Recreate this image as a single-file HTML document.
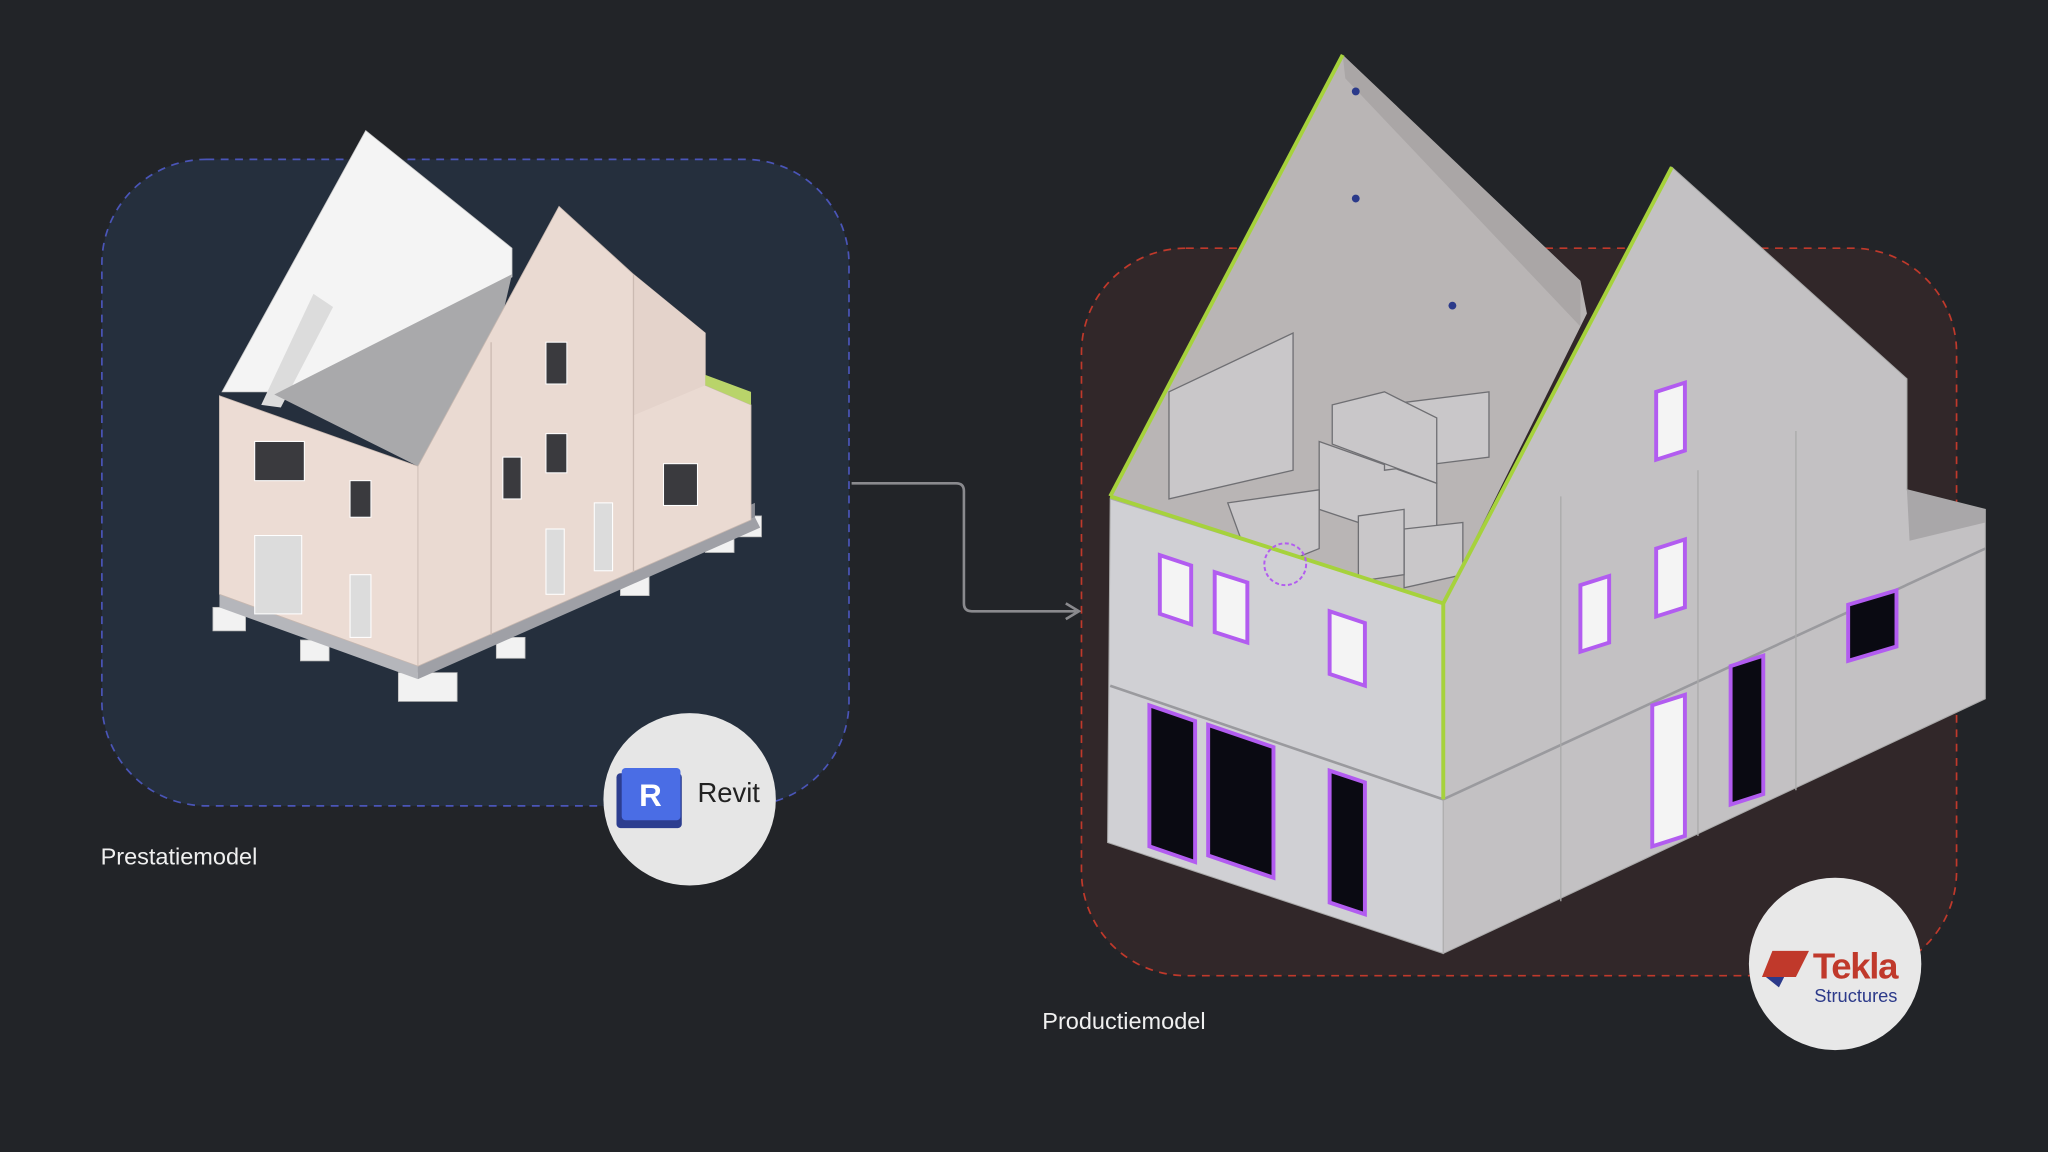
<!DOCTYPE html>
<html><head><meta charset="utf-8"><style>
html,body{margin:0;padding:0;background:#222428;}
svg{display:block}
</style></head><body>
<svg width="2048" height="1152" viewBox="0 0 1568 882" xmlns="http://www.w3.org/2000/svg" font-family="Liberation Sans, sans-serif">
<rect width="1568" height="882" fill="#222428"/>
<!-- left panel -->
<rect x="78" y="122" width="572" height="495" rx="80" fill="#252f3d" stroke="#4a55b8" stroke-width="1.3" stroke-dasharray="6,5"/>
<!-- right panel -->
<rect x="828" y="190" width="670" height="557" rx="80" fill="#312729" stroke="#c0392b" stroke-width="1.3" stroke-dasharray="6,5"/>
<!-- arrow -->
<path d="M652 370 H732 Q738 370 738 376 V462 Q738 468 744 468 H824" fill="none" stroke="#8a8a8e" stroke-width="2"/>
<path d="M816 462 L826 468 L816 474" fill="none" stroke="#8a8a8e" stroke-width="2"/>

<!-- LEFT HOUSE -->
<!-- supports -->
<g fill="#f2f2f2" stroke="#bbb" stroke-width="0.6">
<rect x="163" y="465" width="25" height="18"/><rect x="230" y="490" width="22" height="16"/><rect x="305" y="515" width="45" height="22"/>
<rect x="380" y="488" width="22" height="16"/><rect x="475" y="440" width="22" height="16"/><rect x="540" y="405" width="22" height="18"/><rect x="565" y="395" width="18" height="16"/>
</g>
<polygon points="168,455 320,510 578,396 578,385 320,498 168,445" fill="#8a8c94"/>
<polygon points="168,455 320,510 320,520 168,465" fill="#b5b6bb"/>
<polygon points="320,510 578,396 582,404 320,520" fill="#9fa0a6"/>
<!-- white roof slope -->
<polygon points="170,300 280,100 392,190 392,212 230,300" fill="#f4f4f4" stroke="#ccc" stroke-width="0.6"/>
<polygon points="200,310 240,225 255,235 215,312" fill="#dcdcdc"/>
<!-- grey floor -->
<polygon points="210,302 392,210 380,262 320,357" fill="#a9a9ab"/>
<!-- front face -->
<polygon points="168,303 320,357 320,510 168,455" fill="#ecdcd4" stroke="#c8b8b0" stroke-width="0.6"/>
<!-- right face -->
<polygon points="320,357 428,158 485,210 540,255 540,295 575,310 575,398 320,510" fill="#eadad2" stroke="#c8b8b0" stroke-width="0.6"/>
<polygon points="485,210 540,255 540,295 485,318" fill="#e4d3cb"/>
<line x1="376" y1="262" x2="376" y2="486" stroke="#cbbab2"/>
<line x1="485" y1="210" x2="485" y2="438" stroke="#cbbab2"/>
<polygon points="540,295 575,310 575,300 540,287" fill="#b9d46a"/>
<g fill="#3a3a3e" stroke="#fff" stroke-width="0.8">
<rect x="195" y="338" width="38" height="30"/><rect x="268" y="368" width="16" height="28"/>
<rect x="195" y="410" width="36" height="60" fill="#dcdcdc"/><rect x="268" y="440" width="16" height="48" fill="#dcdcdc"/>
<rect x="418" y="262" width="16" height="32"/><rect x="418" y="332" width="16" height="30"/><rect x="385" y="350" width="14" height="32"/>
<rect x="455" y="385" width="14" height="52" fill="#dcdcdc"/><rect x="418" y="405" width="14" height="50" fill="#dcdcdc"/><rect x="508" y="355" width="26" height="32"/>
</g>

<!-- RIGHT HOUSE -->
<!-- back interior gable -->
<polygon points="850,382 1028,42 1210,215 1215,240 1105,462" fill="#b9b5b5"/>
<polygon points="1028,42 1210,215 1210,250 1030,60" fill="#aaa6a6"/>
<!-- interior walls -->
<g fill="#c9c7c9" stroke="#6f6f73" stroke-width="1">
<polygon points="895,300 990,255 990,360 895,382"/>
<polygon points="1010,338 1100,370 1100,420 1010,390"/>
<polygon points="1060,310 1140,300 1140,350 1060,360"/>
<polygon points="1020,310 1060,300 1100,320 1100,370 1020,340"/>
<polygon points="1075,405 1120,400 1120,440 1075,450"/>
<polygon points="940,385 1010,375 1010,420 960,440"/>
<polygon points="1040,395 1075,390 1075,440 1040,445"/>
</g>
<!-- left face -->
<polygon points="850,382 1105,462 1105,730 848,645" fill="#d0d0d4" stroke="#aaa" stroke-width="0.8"/>
<line x1="850" y1="525" x2="1105" y2="612" stroke="#9a9a9e" stroke-width="2"/>
<!-- right face -->
<polygon points="1105,462 1280,128 1460,290 1460,375 1520,390 1520,535 1105,730" fill="#c3c1c3" stroke="#aaa" stroke-width="0.8"/>
<polygon points="1460,375 1520,390 1520,400 1462,414" fill="#a9a7a9"/>
<line x1="1105" y1="612" x2="1520" y2="420" stroke="#9a9a9e" stroke-width="2"/>
<line x1="1195" y1="380" x2="1195" y2="690" stroke="#aaa"/>
<line x1="1300" y1="360" x2="1300" y2="640" stroke="#aaa"/>
<line x1="1375" y1="330" x2="1375" y2="605" stroke="#aaa"/>
<!-- green edges -->
<g stroke="#a6d23c" stroke-width="3" fill="none">
<line x1="850" y1="380" x2="1028" y2="42"/>
<line x1="1105" y1="462" x2="1280" y2="128"/>
<line x1="850" y1="380" x2="1105" y2="462"/>
<line x1="1105" y1="462" x2="1105" y2="612"/>
</g>
<!-- windows left face -->
<g fill="#f4f4f4" stroke="#b25cf0" stroke-width="3">
<polygon points="888,425 912,433 912,478 888,470"/>
<polygon points="930,438 955,446 955,492 930,484"/>
<polygon points="1018,468 1045,477 1045,525 1018,516"/>
<polygon points="880,540 915,552 915,660 880,648" fill="#0a0a12"/>
<polygon points="925,555 975,572 975,672 925,655" fill="#0a0a12"/>
<polygon points="1018,590 1045,599 1045,700 1018,691" fill="#0a0a12"/>
</g>
<g fill="#f4f4f4" stroke="#b25cf0" stroke-width="3">
<polygon points="1268,300 1290,293 1290,345 1268,352"/>
<polygon points="1268,420 1290,413 1290,465 1268,472"/>
<polygon points="1210,448 1232,441 1232,492 1210,499"/>
<polygon points="1265,540 1290,532 1290,640 1265,648"/>
<polygon points="1325,510 1350,502 1350,608 1325,616" fill="#0a0a12"/>
<polygon points="1415,463 1452,452 1452,495 1415,506" fill="#0a0a12"/>
</g>
<circle cx="984" cy="432" r="16" fill="none" stroke="#b25cf0" stroke-width="1.5" stroke-dasharray="3,2"/>
<g fill="#2b3a8a"><circle cx="1038" cy="70" r="3"/><circle cx="1038" cy="152" r="3"/><circle cx="1112" cy="234" r="3"/></g>

<!-- Revit badge -->
<circle cx="528" cy="612" r="66" fill="#e6e6e6"/>
<rect x="472" y="592" width="50" height="42" rx="3" fill="#2c3d8f"/>
<rect x="476" y="588" width="45" height="40" rx="3" fill="#4a6de5"/>
<text x="498" y="617" font-size="24" font-weight="bold" fill="#fff" text-anchor="middle">R</text>
<text x="534" y="614" font-size="21" fill="#222">Revit</text>
<!-- Tekla badge -->
<circle cx="1405" cy="738" r="66" fill="#e8e8e8"/>
<polygon points="1357,728 1385,728 1375,748 1349,748" fill="#c0392b"/>
<polygon points="1352,748 1366,748 1362,756" fill="#2c3a8a"/>
<text x="1388" y="749" font-size="28" font-weight="bold" fill="#c0392b" letter-spacing="-1">Tekla</text>
<text x="1389" y="767" font-size="14" fill="#2c3a8a">Structures</text>

<text x="77" y="662" font-size="18" fill="#f0f0f0">Prestatiemodel</text>
<text x="798" y="788" font-size="18" fill="#f0f0f0">Productiemodel</text>
</svg>
</body></html>
